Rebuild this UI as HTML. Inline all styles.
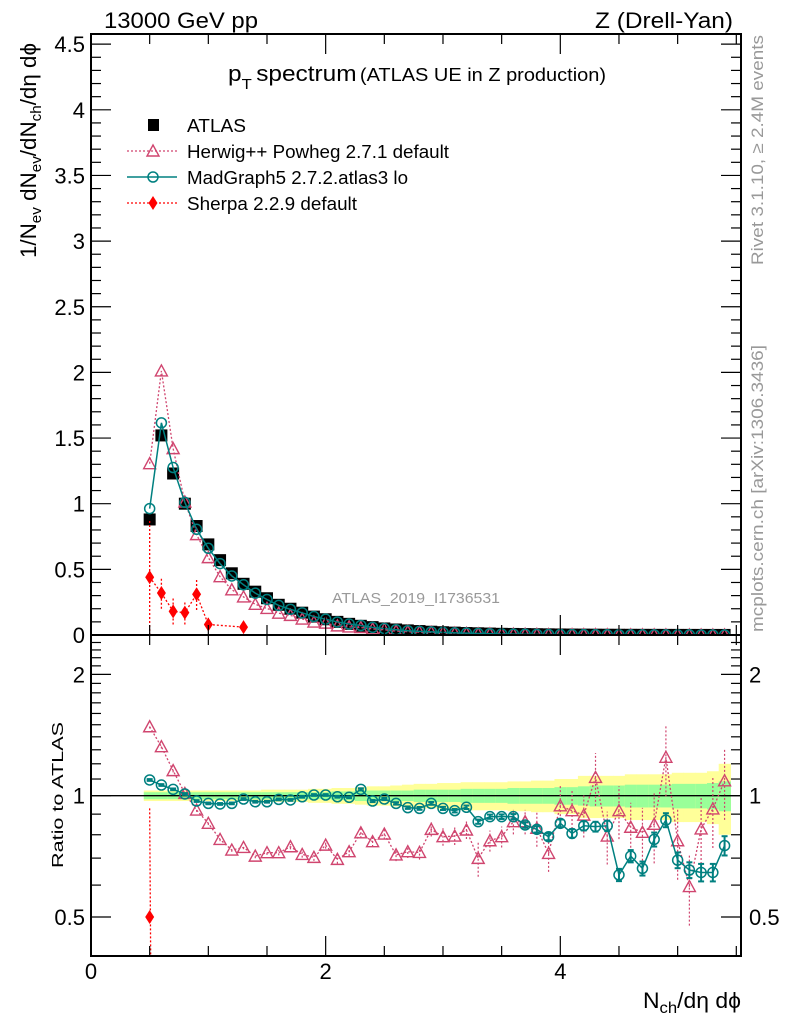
<!DOCTYPE html>
<html><head><meta charset="utf-8"><style>
body{margin:0;background:#fff}
svg{display:block;font-family:"Liberation Sans",sans-serif}
</style></head><body>
<svg id="c" width="786" height="1024" viewBox="0 0 786 1024" xmlns="http://www.w3.org/2000/svg">
<rect width="786" height="1024" fill="#fff"/>
<g id="bands"></g><g id="marks"></g><g id="axes"></g>
<text x="104" y="28" font-size="22" textLength="154" lengthAdjust="spacingAndGlyphs">13000 GeV pp</text>
<text x="595" y="28" font-size="22" textLength="138" lengthAdjust="spacingAndGlyphs">Z (Drell-Yan)</text>
<text x="228" y="81" font-size="22" textLength="378" lengthAdjust="spacingAndGlyphs">p<tspan font-size="15" dy="8">T</tspan><tspan dy="-8" dx="4">spectrum</tspan><tspan font-size="18" dx="3">(ATLAS UE in Z production)</tspan></text>
<text x="763" y="265" font-size="17" fill="#999" textLength="230" lengthAdjust="spacingAndGlyphs" transform="rotate(-90 763 265)">Rivet 3.1.10, ≥ 2.4M events</text>
<text x="763" y="632" font-size="17" fill="#999" textLength="287" lengthAdjust="spacingAndGlyphs" transform="rotate(-90 763 632)">mcplots.cern.ch [arXiv:1306.3436]</text>
<text x="332" y="603" font-size="15" fill="#999" textLength="168" lengthAdjust="spacingAndGlyphs">ATLAS_2019_I1736531</text>
<text x="36" y="258" font-size="22" textLength="215" lengthAdjust="spacingAndGlyphs" transform="rotate(-90 36 258)">1/N<tspan font-size="15" dy="5">ev</tspan><tspan dy="-5"> dN</tspan><tspan font-size="15" dy="5">ev</tspan><tspan dy="-5">/dN</tspan><tspan font-size="15" dy="5">ch</tspan><tspan dy="-5">/dη dϕ</tspan></text>
<text x="63" y="868" font-size="16" textLength="146" lengthAdjust="spacingAndGlyphs" transform="rotate(-90 63 868)">Ratio to ATLAS</text>
<text x="643" y="1008" font-size="22" textLength="98" lengthAdjust="spacingAndGlyphs">N<tspan font-size="16" dy="5">ch</tspan><tspan dy="-5">/dη dϕ</tspan></text>
<g id="legend"></g>
</svg>
<script>
const xs=[0.5,0.6,0.7,0.8,0.9,1.0,1.1,1.2,1.3,1.4,1.5,1.6,1.7,1.8,1.9,2.0,2.1,2.2,2.3,2.4,2.5,2.6,2.7,2.8,2.9,3.0,3.1,3.2,3.3,3.4,3.5,3.6,3.7,3.8,3.9,4.0,4.1,4.2,4.3,4.4,4.5,4.6,4.7,4.8,4.9,5.0,5.1,5.2,5.3,5.4];
const atlas=[0.88,1.52,1.23,1.0,0.83,0.69,0.57,0.47,0.39,0.33,0.28,0.23,0.2,0.17,0.14,0.12,0.1,0.085,0.07,0.06,0.05,0.042,0.035,0.03,0.025,0.021,0.018,0.015,0.013,0.011,0.009,0.008,0.007,0.006,0.005,0.004,0.0035,0.003,0.0026,0.0022,0.0019,0.0016,0.0014,0.0012,0.001,0.0009,0.0008,0.0007,0.0006,0.0005];
const herwigPix=[260,320,392,460,510,550,598,630,622,648,638,638,620,643,652,615,658,635,578,605,582,645,635,637,568,590,588,570,655,602,590,545,545,565,640,497,512,525,412,588,512,562,577,553,352,602,740,567,507,422];
const mgPix=[420,435,448,462,483,490,492,490,477,485,485,478,480,470,465,465,470,472,448,483,477,490,503,505,490,505,512,502,545,530,530,530,555,568,590,550,580,557,560,557,705,648,685,598,540,660,690,697,697,617];
const herwigRatio=herwigPix.map(p=>+Math.pow(2,(467-p)/364).toFixed(3));
const mgRatio=mgPix.map(p=>+Math.pow(2,(467-p)/364).toFixed(3));
const mgErr=[0.005,0.005,0.005,0.005,0.005,0.005,0.005,0.005,0.005,0.005,0.005,0.005,0.005,0.005,0.005,0.005,0.005,0.005,0.006,0.006,0.006,0.007,0.007,0.008,0.008,0.009,0.01,0.01,0.012,0.012,0.013,0.015,0.016,0.018,0.02,0.022,0.024,0.026,0.028,0.03,0.035,0.035,0.04,0.04,0.04,0.045,0.045,0.05,0.05,0.055];
const herwigErr=[0.01,0.01,0.01,0.01,0.01,0.01,0.01,0.01,0.01,0.012,0.012,0.015,0.015,0.018,0.02,0.02,0.025,0.025,0.03,0.03,0.03,0.035,0.035,0.04,0.04,0.05,0.05,0.05,0.1,0.06,0.06,0.07,0.07,0.1,0.1,0.12,0.12,0.12,0.15,0.15,0.15,0.15,0.15,0.2,0.2,0.2,0.2,0.2,0.2,0.2];
const sherpaX=[0.5,0.6,0.7,0.8,0.9,1.0,1.3];
const sherpaY=[0.44,0.32,0.18,0.17,0.31,0.08,0.06];
const sherpaErr=[0.44,0.12,0.1,0.09,0.12,0.05,0.03];
const sherpaRatioX=[0.5];
const sherpaRatioY=[0.5];
const bandGreen=[0.02,0.02,0.02,0.02,0.02,0.02,0.02,0.02,0.02,0.02,0.02,0.02,0.02,0.02,0.02,0.02,0.025,0.025,0.03,0.03,0.03,0.03,0.03,0.035,0.035,0.035,0.035,0.04,0.04,0.04,0.04,0.045,0.045,0.045,0.045,0.05,0.05,0.055,0.06,0.06,0.06,0.065,0.065,0.065,0.065,0.07,0.07,0.07,0.075,0.085];
const bandYellow=[0.03,0.03,0.03,0.03,0.03,0.03,0.03,0.03,0.03,0.03,0.035,0.035,0.035,0.035,0.04,0.04,0.045,0.045,0.05,0.055,0.055,0.06,0.065,0.07,0.07,0.075,0.075,0.08,0.08,0.08,0.08,0.085,0.085,0.09,0.09,0.1,0.1,0.12,0.12,0.12,0.12,0.13,0.13,0.13,0.13,0.14,0.14,0.14,0.15,0.2];
const yTicks=[0,0.5,1,1.5,2,2.5,3,3.5,4,4.5];
const yTickLabels=["0","0.5","1","1.5","2","2.5","3","3.5","4","4.5"];
const xTicks=[0,2,4];
const rTicks=[0.5,1,2];

const L=91,R=741,T=34,MB=635,RB=956;
const X=v=>L+(v-0)*(R-L)/5.54;
const Y=v=>MB-v*131.3;
const RY=v=>795.7-121.3*Math.log2(v);
const NS='http://www.w3.org/2000/svg';
function mk(tag,attrs,parent){const e=document.createElementNS(NS,tag);for(const k in attrs)e.setAttribute(k,attrs[k]);parent.appendChild(e);return e;}
const bands=document.getElementById('bands'),marks=document.getElementById('marks'),axes=document.getElementById('axes'),leg=document.getElementById('legend');
const W=(R-L)/5.54*0.1;
xs.forEach((x,i)=>{
 let r=mk('rect',{x:X(x)-W/2,y:RY(1+bandYellow[i]),width:W+0.5,height:RY(1-bandYellow[i])-RY(1+bandYellow[i]),fill:'#ffff99'},bands);
 
 
 let g=mk('rect',{x:X(x)-W/2,y:RY(1+bandGreen[i]),width:W+0.5,height:RY(1-bandGreen[i])-RY(1+bandGreen[i]),fill:'#99ff99'},bands);
 
 
});
mk('line',{x1:L,x2:R,y1:RY(1),y2:RY(1),stroke:'#000','stroke-width':1.3},bands);
const clipR=mk('clipPath',{id:'cr'},marks);mk('rect',{x:L,y:MB,width:R-L,height:RB-MB},clipR);
const clipM=mk('clipPath',{id:'cm'},marks);mk('rect',{x:L,y:T,width:R-L,height:MB-T},clipM);
const gm=mk('g',{'clip-path':'url(#cm)'},marks),gr=mk('g',{'clip-path':'url(#cr)'},marks);
const HC='#d0456f',MC='#008080',SC='#ff0000';
function tri(x,y,p,name){let t=mk('path',{d:`M${x} ${y-6}L${x+6} ${y+5}L${x-6} ${y+5}Z`,fill:'none',stroke:HC,'stroke-width':1.4},p);}
function circ(x,y,p,name){let c=mk('circle',{cx:x,cy:y,r:5,fill:'none',stroke:MC,'stroke-width':1.5},p);}
function dia(x,y,p,name){let d=mk('path',{d:`M${x} ${y-7}L${x+4.5} ${y}L${x} ${y+7}L${x-4.5} ${y}Z`,fill:SC},p);}
xs.forEach((x,i)=>{let s=mk('rect',{x:X(x)-6,y:Y(atlas[i])-6,width:12,height:12,fill:'#000'},gm);});
const hMain=xs.map((x,i)=>[X(x),Y(atlas[i]*herwigRatio[i])]);
const mMain=xs.map((x,i)=>[X(x),Y(atlas[i]*mgRatio[i])]);
mk('polyline',{points:hMain.map(p=>p.join(',')).join(' '),fill:'none',stroke:HC,'stroke-width':1.3,'stroke-dasharray':'2,2'},gm);
hMain.forEach(p=>tri(p[0],p[1],gm,'herwig-point'));
mk('polyline',{points:mMain.map(p=>p.join(',')).join(' '),fill:'none',stroke:MC,'stroke-width':1.5},gm);
mMain.forEach(p=>circ(p[0],p[1],gm,'madgraph-point'));
const sMain=sherpaX.map((x,i)=>[X(x),Y(sherpaY[i])]);
mk('polyline',{points:sMain.map(p=>p.join(',')).join(' '),fill:'none',stroke:SC,'stroke-width':1.3,'stroke-dasharray':'2,2'},gm);
sherpaX.forEach((x,i)=>{mk('line',{x1:X(x),x2:X(x),y1:Y(sherpaY[i]-sherpaErr[i]),y2:Y(sherpaY[i]+sherpaErr[i]),stroke:SC,'stroke-width':1.3,'stroke-dasharray':'2,2'},gm);dia(X(x),Y(sherpaY[i]),gm,'sherpa-point');});
const hR=xs.map((x,i)=>[X(x),RY(herwigRatio[i])]);
const mR=xs.map((x,i)=>[X(x),RY(mgRatio[i])]);
xs.forEach((x,i)=>{mk('line',{x1:X(x),x2:X(x),y1:RY(herwigRatio[i]*(1-herwigErr[i])),y2:RY(herwigRatio[i]*(1+herwigErr[i])),stroke:HC,'stroke-width':1.2,'stroke-dasharray':'2,2'},gr);});
mk('polyline',{points:hR.map(p=>p.join(',')).join(' '),fill:'none',stroke:HC,'stroke-width':1.3,'stroke-dasharray':'2,2'},gr);
hR.forEach(p=>tri(p[0],p[1],gr,'herwig-ratio-point'));
xs.forEach((x,i)=>{const a=RY(mgRatio[i]*(1-mgErr[i])),b=RY(mgRatio[i]*(1+mgErr[i]));mk('line',{x1:X(x),x2:X(x),y1:a,y2:b,stroke:MC,'stroke-width':2},gr);mk('line',{x1:X(x)-3,x2:X(x)+3,y1:a,y2:a,stroke:MC,'stroke-width':2},gr);mk('line',{x1:X(x)-3,x2:X(x)+3,y1:b,y2:b,stroke:MC,'stroke-width':2},gr);});
mk('polyline',{points:mR.map(p=>p.join(',')).join(' '),fill:'none',stroke:MC,'stroke-width':1.5},gr);
mR.forEach(p=>circ(p[0],p[1],gr,'madgraph-ratio-point'));
sherpaRatioX.forEach((x,i)=>{mk('line',{x1:X(x),x2:X(x)+1,y1:RY(0.93),y2:RB,stroke:SC,'stroke-width':1.3,'stroke-dasharray':'2,2'},gr);dia(X(x),RY(sherpaRatioY[i]),gr,'sherpa-ratio-point');});
mk('rect',{x:L,y:T,width:R-L,height:MB-T,fill:'none',stroke:'#000','stroke-width':2},axes);
mk('rect',{x:L,y:MB,width:R-L,height:RB-MB,fill:'none',stroke:'#000','stroke-width':2},axes);
for(let v=0;v<=4.55;v+=0.1){const y=Y(v),maj=Math.abs(v*2-Math.round(v*2))<0.01,l=maj?20:10;mk('line',{x1:L,x2:L+l,y1:y,y2:y,stroke:'#000','stroke-width':1.2},axes);mk('line',{x1:R,x2:R-l,y1:y,y2:y,stroke:'#000','stroke-width':1.2},axes);}
yTicks.forEach((v,i)=>{const t=mk('text',{x:L-6,y:Y(v)+8,'font-size':22,'text-anchor':'end'},axes);t.textContent=yTickLabels[i];});
for(let v=0;v<=5.5;v+=0.5){const maj=Math.abs(v-2*Math.round(v/2))<0.01,l=maj?20:10,x=X(v);[[T,1],[MB,-1],[MB,1],[RB,-1]].forEach(([y0,d])=>mk('line',{x1:x,x2:x,y1:y0,y2:y0+d*l,stroke:'#000','stroke-width':1.2},axes));}
xTicks.forEach(v=>{const t=mk('text',{x:X(v),y:979,'font-size':22,'text-anchor':'middle'},axes);t.textContent=String(v);});
[0.4,0.5,0.6,0.7,0.8,0.9,1,1.1,1.2,1.3,1.4,1.5,1.6,1.7,1.8,1.9,2,2.1,2.2,2.3,2.4].forEach(v=>{const y=RY(v);if(y<MB||y>RB)return;const maj=rTicks.includes(v),l=maj?20:10;mk('line',{x1:L,x2:L+l,y1:y,y2:y,stroke:'#000','stroke-width':1.2},axes);mk('line',{x1:R,x2:R-l,y1:y,y2:y,stroke:'#000','stroke-width':1.2},axes);});
rTicks.forEach(v=>{const a=mk('text',{x:L-6,y:RY(v)+8,'font-size':22,'text-anchor':'end'},axes);a.textContent=String(v);const b=mk('text',{x:R+8,y:RY(v)+8,'font-size':22},axes);b.textContent=String(v);});
const legNames=['ATLAS','Herwig++ Powheg 2.7.1 default','MadGraph5 2.7.2.atlas3 lo','Sherpa 2.2.9 default'];
const legLens=[59,262,221,170];
legNames.forEach((n,i)=>{const y=125+i*26;
 if(i==0)mk('rect',{x:148,y:y-6,width:11,height:12,fill:'#000'},leg);
 if(i==1){mk('line',{x1:127,x2:177,y1:y,y2:y,stroke:HC,'stroke-width':1.3,'stroke-dasharray':'2,2'},leg);tri(153,y,leg,'legend-herwig-marker');}
 if(i==2){mk('line',{x1:127,x2:177,y1:y,y2:y,stroke:MC,'stroke-width':1.5},leg);circ(153,y,leg,'legend-madgraph-marker');}
 if(i==3){mk('line',{x1:127,x2:177,y1:y,y2:y,stroke:SC,'stroke-width':1.3,'stroke-dasharray':'2,2'},leg);dia(153,y,leg,'legend-sherpa-marker');}
 const t=mk('text',{x:187,y:y+7,'font-size':18,textLength:legLens[i],lengthAdjust:'spacingAndGlyphs'},leg);t.textContent=n;});
</script>
</body></html>
